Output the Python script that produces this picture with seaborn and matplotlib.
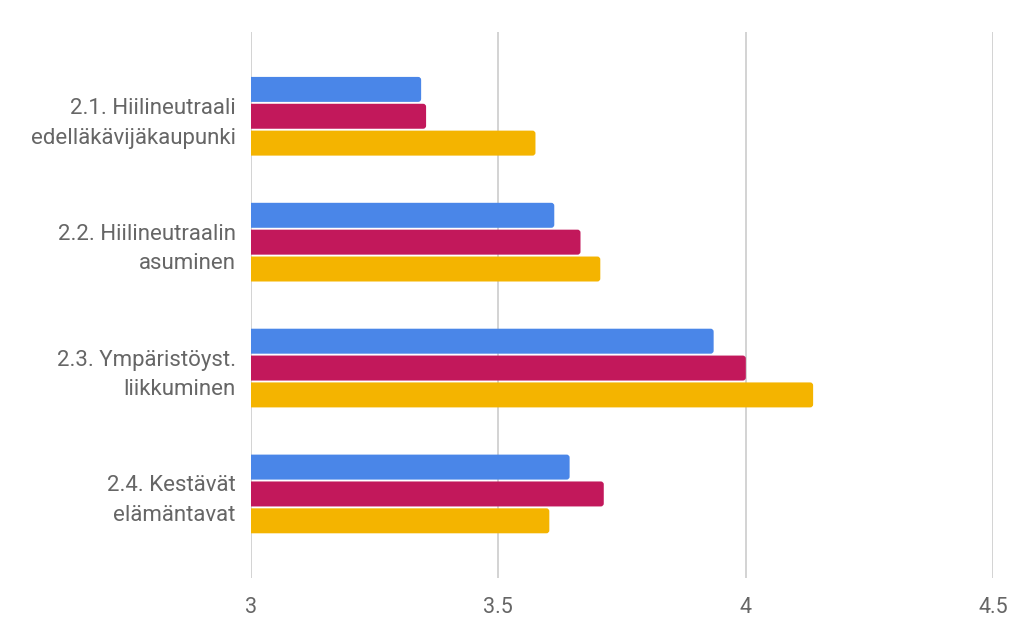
import pandas as pd
import numpy as np
import matplotlib.pyplot as plt
import seaborn as sns
from matplotlib.patches import FancyBboxPatch

categories = ["2.1. Hiilineutraali\nedelläkävijäkaupunki",
              "2.2. Hiilineutraalin\nasuminen",
              "2.3. Ympäristöyst.\nliikkuminen",
              "2.4. Kestävät\nelämäntavat"]
series = ["A", "B", "C"]
values_a = [3.344, 3.613, 3.935, 3.644]
values_b = [3.354, 3.666, 4.000, 3.713]
values_c = [3.575, 3.706, 4.136, 3.603]
colors = ["#4a86e8", "#c2185b", "#f4b400"]
xticks = [3, 3.5, 4, 4.5]

df = pd.DataFrame({
    "category": categories * 3,
    "series": [s for s in series for _ in categories],
    "value": values_a + values_b + values_c,
})

sns.set_style("white")
plt.rcParams['font.family'] = ['Roboto', 'DejaVu Sans']

fig = plt.figure(figsize=(10.24, 6.33), dpi=100)
ax = fig.add_axes([0.245, 0.087, 0.725, 0.862])

sns.barplot(data=df, y="category", x="value", hue="series", palette=colors,
            orient="h", width=0.64, gap=0.07, legend=False, ax=ax, saturation=1)

ax.set_xlim(3, 4.5)
ax.set_ylim(3.667, -0.667)

# rounded bar ends
px_x = 1.5 / 742
px_y = 4.333 / 546
for p in list(ax.patches):
    x, y = p.get_x(), p.get_y()
    w, h = p.get_width(), p.get_height()
    fc = p.get_facecolor()
    p.remove()
    r = 3 * px_x
    box = FancyBboxPatch((x, y), w, h,
                         boxstyle=f"round,pad=0,rounding_size={r}",
                         mutation_aspect=px_y / px_x,
                         facecolor=fc, edgecolor="none", zorder=2)
    ax.add_patch(box)

ax.set_xticks(xticks)
ax.set_xticklabels(["3", "3.5", "4", "4.5"])
ax.grid(axis="x", color="#cccccc", linewidth=1.2, zorder=0)
ax.set_axisbelow(True)
for s in ax.spines.values():
    s.set_visible(False)
ax.tick_params(axis="x", length=0, pad=14, labelsize=15.5, labelcolor="#666666")
ax.tick_params(axis="y", length=0, pad=11, labelsize=16, labelcolor="#666666")
for lbl in ax.get_yticklabels():
    lbl.set_multialignment("right")
    lbl.set_linespacing(1.55)
ax.set_xlabel("")
ax.set_ylabel("")

fig.savefig("out.png", dpi=100)
